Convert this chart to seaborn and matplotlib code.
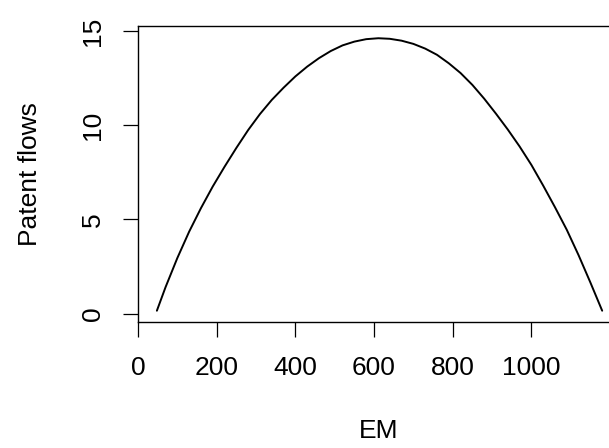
import matplotlib
matplotlib.use("Agg")
import matplotlib.pyplot as plt
import seaborn as sns
import pandas as pd

# Values
em_values = [48, 70, 100, 130, 160, 190, 220, 250, 280, 310, 340, 370, 400, 430,
             460, 490, 520, 550, 580, 611, 640, 670, 700, 730, 760, 790, 820, 850,
             880, 910, 940, 970, 1000, 1030, 1060, 1090, 1120, 1150, 1180]
patent_flows = [0.15, 1.4, 2.95, 4.35, 5.6, 6.75, 7.8, 8.8, 9.75, 10.6, 11.35,
                12.0, 12.6, 13.12, 13.57, 13.95, 14.25, 14.45, 14.58, 14.63, 14.6,
                14.5, 14.33, 14.08, 13.75, 13.3, 12.78, 12.15, 11.42, 10.62, 9.78,
                8.88, 7.9, 6.8, 5.65, 4.45, 3.1, 1.65, 0.15]
x_ticks = [0, 200, 400, 600, 800, 1000, 1200]
x_tick_labels = ["0", "200", "400", "600", "800", "1000", ""]
y_ticks = [0, 5, 10, 15]
y_tick_labels = ["0", "5", "10", "15"]
x_label = "EM"
y_label = "Patent flows"

sns.set_style("white")
plt.rcParams["font.family"] = ["Liberation Sans", "DejaVu Sans"]

df = pd.DataFrame({"EM": em_values, "Patent flows": patent_flows})

fig = plt.figure(figsize=(6.09, 4.48), dpi=100)
ax = fig.add_axes([138 / 609, 126 / 448, 482 / 609, 296 / 448])

sns.lineplot(data=df, x="EM", y="Patent flows", color="black", linewidth=1.4,
             ax=ax, sort=False, estimator=None)

ax.set_xlim(2.7, 1225.3)
ax.set_ylim(-0.45, 15.28)

for s in ax.spines.values():
    s.set_visible(True)
    s.set_color("black")
    s.set_linewidth(1.0)

ax.set_xticks(x_ticks)
ax.set_xticklabels(x_tick_labels)
ax.set_yticks(y_ticks)
ax.set_yticklabels(y_tick_labels)

ax.tick_params(axis="both", which="major", direction="out", length=10.8, width=0.9,
               color="black", labelsize=19, labelcolor="black")
ax.tick_params(axis="x", pad=14, bottom=True)
ax.tick_params(axis="y", pad=13.3, left=True)
plt.setp(ax.get_yticklabels(), rotation=90, va="center")

ax.set_xlabel(x_label, fontsize=19, color="black")
ax.set_ylabel(y_label, fontsize=19, color="black")
ax.xaxis.set_label_coords(0.5, -0.3277)
ax.yaxis.set_label_coords(-0.2002, 0.5)
ax.grid(False)

fig.savefig("out.png", dpi=100)
